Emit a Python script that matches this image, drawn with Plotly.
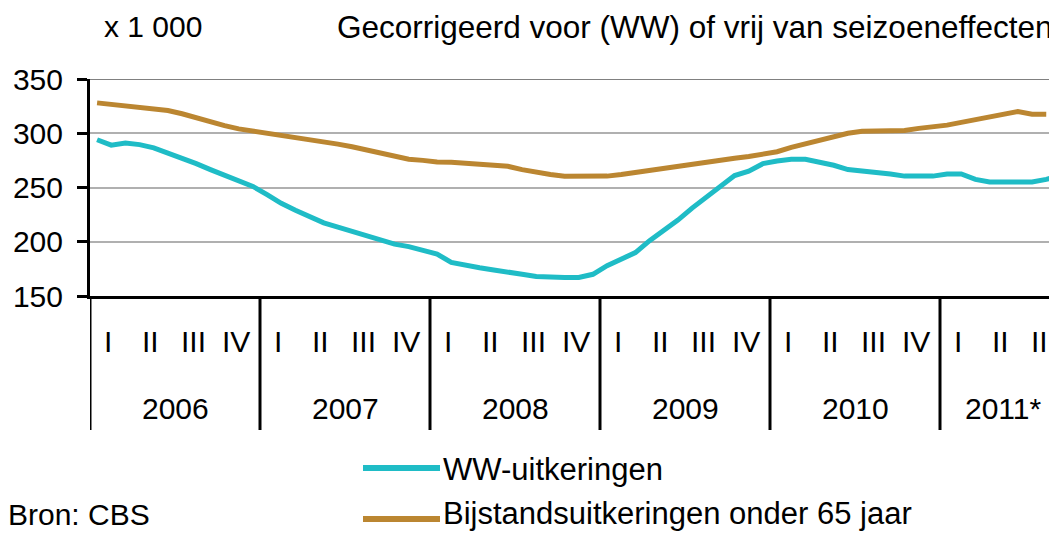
import plotly.graph_objects as go

# ---- data (x 1 000), monthly, Jan 2006 .. Sep 2011 ----
years = ["2006", "2007", "2008", "2009", "2010", "2011*"]
quarters = ["I", "II", "III", "IV"]
months_in_year = [12, 12, 12, 12, 12, 9]

ww_uitkeringen = [
    294, 289, 291, 289.5, 286.5, 282, 277, 272, 266.5, 261, 256.3, 251,
    243.4, 235.4, 229, 222.8, 217.4, 213.4, 209.8, 206, 202, 197.8, 195.5, 192,
    188.7, 181, 178, 176, 174, 171.5, 170, 168, 167, 167, 167, 170,
    178, 183.5, 190, 201, 210, 220, 231, 241, 250, 261, 265, 272,
    274.5, 276, 276, 273.5, 270.5, 266.5, 265.5, 264, 262.5, 260.5, 260.5, 260.5,
    262.5, 262.5, 257.5, 255, 255, 255, 255, 257.5, 261,
]
bijstand_65 = [
    328, 326.5, 325.4, 324, 322.4, 321, 318, 314, 310.5, 307, 304, 302,
    300.5, 298.5, 296.5, 295, 293, 290, 287.5, 284.5, 281, 278, 276, 275,
    273.5, 273.2, 272, 271, 270.7, 269.5, 266.5, 264, 262, 260.3, 260.3, 260.3,
    260.5, 262, 264, 265.5, 267, 269.5, 271.5, 274, 276, 277, 278.5, 280.5,
    283, 287, 290.5, 294, 297.5, 300, 301.8, 301.8, 301.8, 302.5, 304.5, 305.5,
    307.5, 310, 312.5, 315, 317.5, 320, 317.5, 317.4,
]
y_ticks = [150, 200, 250, 300, 350]

TEAL = "#1fbcc6"
BROWN = "#bb8631"
FONT = "Liberation Sans, Arial, sans-serif"
FS = 30

# page offset from the default body margin
OFF = 8
# figure geometry (pixels, figure coordinates)
W, H = 1057 - OFF, 533 - OFF
L, R, T = 90 - OFF, 0, 79 - OFF
B = H - (296 - OFF)
pw, ph = W - L - R, H - T - B
month_px = 850 / 60.0
x_max = -0.5 + pw / month_px


def py(pix):  # page pixel row -> paper y
    return (H - B - (pix - OFF)) / ph


def px(pix):  # page pixel column -> paper x
    return (pix - OFF - L) / pw


fig = go.Figure()
fig.add_trace(go.Scatter(x=list(range(len(ww_uitkeringen))), y=ww_uitkeringen,
                         mode="lines", line=dict(color=TEAL, width=5),
                         name="WW-uitkeringen", showlegend=False))
fig.add_trace(go.Scatter(x=list(range(len(bijstand_65))), y=bijstand_65,
                         mode="lines", line=dict(color=BROWN, width=5),
                         name="Bijstandsuitkeringen onder 65 jaar", showlegend=False))

shapes = []
annotations = []

# darker top gridline
shapes.append(dict(type="line", xref="paper", yref="y", x0=0, x1=1, y0=350, y1=350,
                   line=dict(color="#808080", width=2), layer="below"))

# year separators, quarter and year labels
start = 0
for yr, n in zip(years, months_in_year):
    sep = start - 0.5
    shapes.append(dict(type="line", xref="x", yref="paper", x0=sep, x1=sep,
                       y0=0, y1=py(430), line=dict(color="black", width=3)))
    for q in range(n // 3):
        annotations.append(dict(x=start + 3 * q + 0.8, y=py(341), xref="x", yref="paper",
                                text=quarters[q], showarrow=False,
                                font=dict(size=FS, color="black", family=FONT),
                                xanchor="center", yanchor="middle"))
    annotations.append(dict(x=start + (n - 1) / 2.0, y=py(408), xref="x", yref="paper",
                            text=yr, showarrow=False,
                            font=dict(size=FS, color="black", family=FONT),
                            xanchor="center", yanchor="middle"))
    start += n

# header texts
annotations.append(dict(x=px(102), y=py(26), xref="paper", yref="paper", text="x 1 000",
                        showarrow=False, xanchor="left", yanchor="middle",
                        font=dict(size=FS, color="black", family=FONT)))
annotations.append(dict(x=px(1054), y=py(27), xref="paper", yref="paper",
                        text="Gecorrigeerd voor (WW) of vrij van seizoeneffecten",
                        showarrow=False, xanchor="right", yanchor="middle",
                        font=dict(size=31.5, color="black", family=FONT)))

# custom legend
shapes.append(dict(type="line", xref="paper", yref="paper", x0=px(363), x1=px(440),
                   y0=py(468), y1=py(468), line=dict(color=TEAL, width=6)))
annotations.append(dict(x=px(441), y=py(469), xref="paper", yref="paper",
                        text="WW-uitkeringen", showarrow=False,
                        xanchor="left", yanchor="middle",
                        font=dict(size=31, color="black", family=FONT)))
shapes.append(dict(type="line", xref="paper", yref="paper", x0=px(363), x1=px(440),
                   y0=py(519), y1=py(519), line=dict(color=BROWN, width=6)))
annotations.append(dict(x=px(441), y=py(533), xref="paper", yref="paper",
                        text="Bijstandsuitkeringen onder 65 jaar", showarrow=False,
                        xanchor="left", yanchor="bottom",
                        font=dict(size=31, color="black", family=FONT)))

annotations.append(dict(x=px(6), y=py(533), xref="paper", yref="paper", text="Bron: CBS",
                        showarrow=False, xanchor="left", yanchor="bottom",
                        font=dict(size=FS, color="black", family=FONT)))

fig.update_layout(
    width=W, height=H,
    margin=dict(l=L, r=R, t=T, b=B, pad=0),
    paper_bgcolor="white", plot_bgcolor="white",
    showlegend=False,
    shapes=shapes, annotations=annotations,
    font=dict(family=FONT, size=FS, color="black"),
)
fig.update_xaxes(range=[-0.5, x_max], showgrid=False, zeroline=False,
                 showticklabels=False, ticks="", showline=True,
                 linecolor="black", linewidth=3)
fig.update_yaxes(range=[150, 350], tickvals=y_ticks, showgrid=True,
                 gridcolor="#b0b0b0", gridwidth=2, zeroline=False,
                 showline=True, linecolor="black", linewidth=3,
                 ticks="outside", ticklen=10, tickwidth=3, tickcolor="black",
                 ticklabelstandoff=8,
                 tickfont=dict(size=FS, color="black", family=FONT))

fig.write_html("out.html")
